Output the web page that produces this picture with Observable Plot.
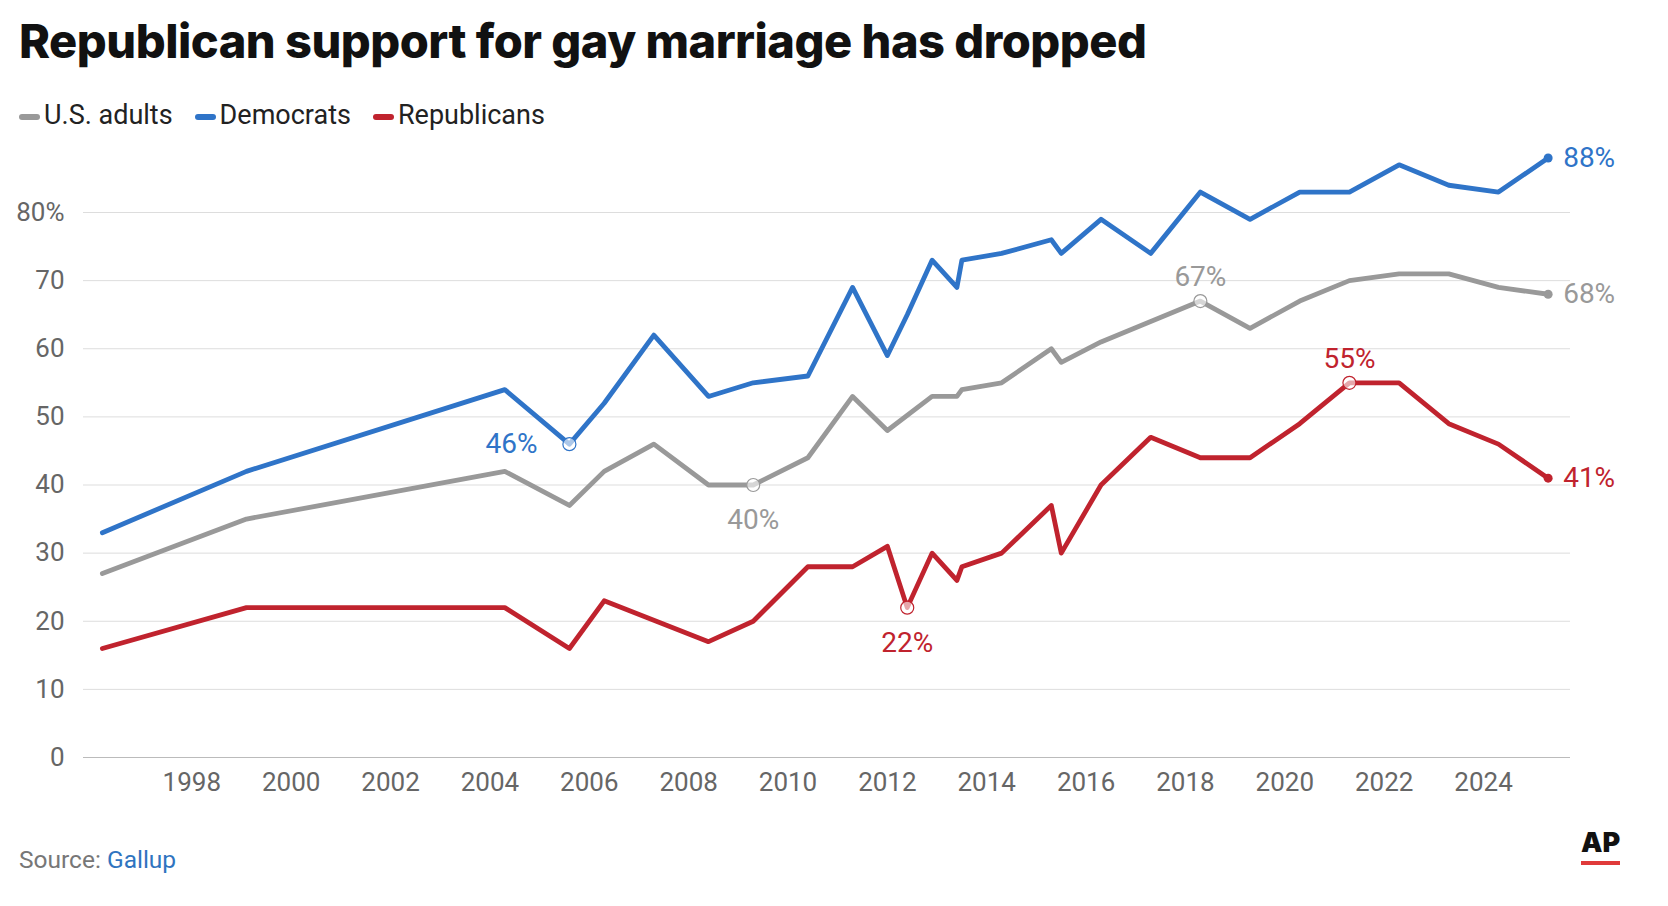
<!DOCTYPE html><html><head><meta charset="utf-8">
<script src="https://cdn.jsdelivr.net/npm/d3@7"></script>
<script src="https://cdn.jsdelivr.net/npm/@observablehq/plot@0.6"></script>
<style>
body{margin:0;background:#fff;font-family:Roboto,"Noto Sans",sans-serif;}
#t{position:absolute;left:19px;top:12px;font:800 47px Inter,Roboto,sans-serif;color:#111;letter-spacing:-0.5px}
#lg{position:absolute;left:19px;top:99px;font-size:27px;color:#222}
#lg span{margin-right:22px}
#lg i{display:inline-block;width:21px;height:6px;border-radius:3px;vertical-align:middle;margin-right:4px}
#ch{position:absolute;left:0;top:138px}
#src{position:absolute;left:19px;top:845px;font-size:24.5px;color:#777}
#src b{color:#2f74c0;font-weight:400}
#ap{position:absolute;left:1581px;top:826px;font:900 27px Inter,sans-serif;color:#111;border-bottom:4px solid #e03a3a;padding-bottom:2px}
</style></head><body>
<div id="t">Republican support for gay marriage has dropped</div>
<div id="lg"><span><i style="background:#999"></i>U.S. adults</span><span><i style="background:#2f74c8"></i>Democrats</span><span><i style="background:#c0232e"></i>Republicans</span></div>
<div id="ch"></div>
<div id="src">Source: <b>Gallup</b></div>
<div id="ap">AP</div>
<script>
const demYears=[1996.2,1999.1,2004.3,2005.6,2006.3,2007.3,2008.4,2009.3,2010.4,2011.3,2012.0,2012.4,2012.9,2013.4,2013.5,2014.3,2015.3,2015.5,2016.3,2017.3,2018.3,2019.3,2020.3,2021.3,2022.3,2023.3,2024.3,2025.3];
const demVals=[33,42,54,46,52,62,53,55,56,69,59,65,73,69,73,74,76,74,79,74,83,79,83,83,87,84,83,88];
const usYears=[1996.2,1999.1,2004.3,2005.6,2006.3,2007.3,2008.4,2009.3,2010.4,2011.3,2012.0,2012.9,2013.4,2013.5,2014.3,2015.3,2015.5,2016.3,2017.3,2018.3,2019.3,2020.3,2021.3,2022.3,2023.3,2024.3,2025.3];
const usVals=[27,35,42,37,42,46,40,40,44,53,48,53,53,54,55,60,58,61,64,67,63,67,70,71,71,69,68];
const repYears=[1996.2,1999.1,2004.3,2005.6,2006.3,2008.4,2009.3,2010.4,2011.3,2012.0,2012.4,2012.9,2013.4,2013.5,2014.3,2015.3,2015.5,2016.3,2017.3,2018.3,2019.3,2020.3,2021.3,2022.3,2023.3,2024.3,2025.3];
const repVals=[16,22,22,16,23,17,20,28,28,31,22,30,26,28,30,37,30,40,47,44,44,49,55,55,49,46,41];
const yTicks=[0,10,20,30,40,50,60,70,80];
const xTicks=[1998,2000,2002,2004,2006,2008,2010,2012,2014,2016,2018,2020,2022,2024];
const colors={us:"#999999",dem:"#2f74c8",rep:"#c0232e"};
const mk=(ys,vs)=>ys.map((y,i)=>({x:y,v:vs[i]}));
const dem=mk(demYears,demVals),us=mk(usYears,usVals),rep=mk(repYears,repVals);
const ann=[
 {x:2005.6,v:46,c:colors.dem,t:"46%",dx:-58,dy:0},
 {x:2009.3,v:40,c:colors.us,t:"40%",dx:0,dy:35},
 {x:2018.3,v:67,c:colors.us,t:"67%",dx:0,dy:-24},
 {x:2012.4,v:22,c:colors.rep,t:"22%",dx:0,dy:35},
 {x:2021.3,v:55,c:colors.rep,t:"55%",dx:0,dy:-24}];
const ends=[{x:2025.3,v:88,c:colors.dem},{x:2025.3,v:68,c:colors.us},{x:2025.3,v:41,c:colors.rep}];
const p=Plot.plot({width:1668,height:683,marginLeft:83,marginRight:98,marginTop:74,marginBottom:64,
 style:{fontFamily:"Roboto,sans-serif",fontSize:"26px",color:"#666",overflow:"visible"},
 x:{domain:[1995.82,2025.75],ticks:xTicks,tickFormat:d=>String(d),tickSize:0,label:null,tickPadding:15},
 y:{domain:[0,80],label:null},
 marks:[
  Plot.gridY(yTicks,{stroke:"#ddd",strokeOpacity:1}),
  Plot.ruleY([0],{stroke:"#bbb"}),
  Plot.axisY(yTicks,{tickSize:0,tickFormat:d=>d===80?"80%":String(d),fontSize:26,fill:"#666",dx:-10,label:null}),
  Plot.line(us,{x:"x",y:"v",stroke:colors.us,strokeWidth:4.8}),
  Plot.line(dem,{x:"x",y:"v",stroke:colors.dem,strokeWidth:4.8}),
  Plot.line(rep,{x:"x",y:"v",stroke:colors.rep,strokeWidth:4.8}),
  Plot.dot(ann,{x:"x",y:"v",r:6.5,fill:"white",fillOpacity:0.6,stroke:"c",strokeWidth:1.2}),
  ...ann.map(a=>Plot.text([a],{x:"x",y:"v",text:"t",fill:a.c,dx:a.dx,dy:a.dy,fontSize:28})),
  Plot.dot(ends,{x:"x",y:"v",r:4.5,fill:"c"}),
  Plot.text(ends,{x:"x",y:"v",text:d=>d.v+"%",fill:"c",dx:15,textAnchor:"start",fontSize:28})
 ]});
document.getElementById("ch").appendChild(p);
</script></body></html>
